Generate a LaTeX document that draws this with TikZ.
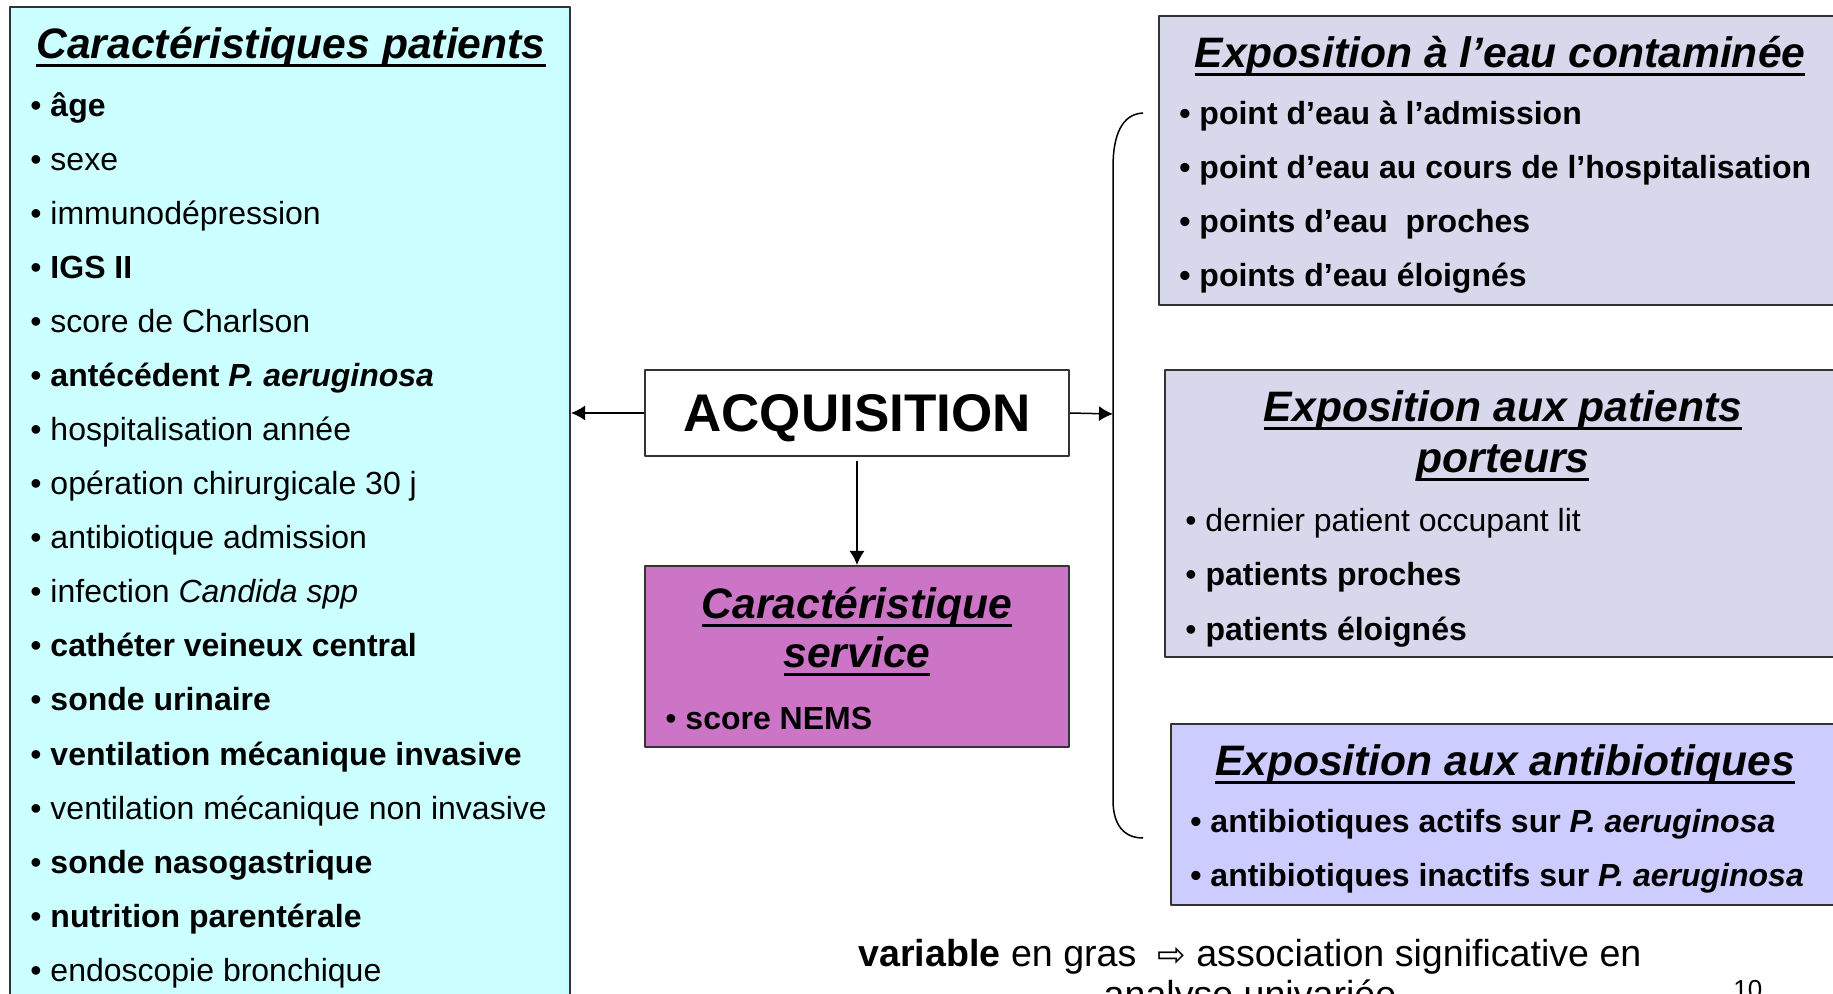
\documentclass[tikz,border=0pt]{standalone}
\usepackage{fontspec}
\setmainfont{Liberation Sans}
\newfontfamily\arrowfont{DejaVu Sans}
\usetikzlibrary{arrows.meta}
\tikzset{>={Latex[length=7pt,width=7.5pt]}}

% thick underline for the box headings
\newcommand{\hdline}[1]{\setbox0\hbox{#1}\leavevmode\rlap{\vrule height -2.6pt depth 4.1pt width \wd0}\box0}

\definecolor{patcyan}{RGB}{204,255,255}
\definecolor{servmauve}{RGB}{204,117,198}
\definecolor{expgris}{RGB}{216,216,236}
\definecolor{expbleu}{RGB}{204,204,255}

\tikzset{
  box/.style={draw=black!80, line width=1pt, anchor=north west, inner sep=0pt},
  item/.style={anchor=base west, inner sep=0pt, font=\fontsize{16}{19}\selectfont},
  head/.style={anchor=base, inner sep=0pt, font=\fontsize{21.3}{25.5}\selectfont\bfseries\itshape},
  link/.style={->, line width=0.75pt},
}

\begin{document}
\begin{tikzpicture}[x=0.5pt, y=-0.5pt, line join=round]
    \useasboundingbox (0,0) rectangle (1833,994);
    \clip (0,0) rectangle (1833,994);

    % boxes
    \node[box, fill=patcyan, minimum width=280pt, minimum height=510pt] (pat) at (9,6) {};
    \node[box, fill=white, minimum width=212pt, minimum height=43pt, text depth=0pt,
          font=\fontsize{26.5}{30}\selectfont\bfseries] (acq) at (644,369) {ACQUISITION};
    \node[box, fill=servmauve, minimum width=212pt, minimum height=90.5pt] (serv) at (644,565) {};
    \node[box, fill=expgris, minimum width=350pt, minimum height=144.5pt] (eau) at (1158,15) {};
    \node[box, fill=expgris, minimum width=350pt, minimum height=143.5pt] (port) at (1164,369) {};
    \node[box, fill=expbleu, minimum width=350pt, minimum height=90.5pt] (abx) at (1170,723) {};

    % patient characteristics
    \node[head] (patt) at (291,59) {\hdline{Caractéristiques patients}};
    \foreach \txt [count=\i] in {\textbf{âge}, sexe, immunodépression, \textbf{IGS II},
        score de Charlson, \textbf{antécédent \textit{P. aeruginosa}}, hospitalisation année,
        opération chirurgicale 30 j, antibiotique admission, infection \textit{Candida spp},
        \textbf{cathéter veineux central}, \textbf{sonde urinaire},
        \textbf{ventilation mécanique invasive}, ventilation mécanique non invasive,
        \textbf{sonde nasogastrique}, \textbf{nutrition parentérale}, endoscopie bronchique}
      \node[item] (pat\i) at (30,63+54*\i) {• \txt};

    % service
    \node[head] (servt1) at (857,619) {\hdline{Caractéristique}};
    \node[head] (servt2) at (857,668) {\hdline{service}};
    \node[item] (serv1) at (665,729) {• \textbf{score NEMS}};

    % water
    \node[head] (eaut) at (1500,68) {\hdline{Exposition à l’eau contaminée}};
    \foreach \txt [count=\i] in {point d’eau à l’admission, point d’eau au cours de l’hospitalisation,
        points d’eau \ proches, points d’eau éloignés}
      \node[item, font=\fontsize{16}{19}\selectfont\bfseries] (eau\i) at (1179,71+54*\i) {• \txt};

    % carriers
    \node[head] (portt1) at (1503,422) {\hdline{Exposition aux patients}};
    \node[head] (portt2) at (1503,473) {\hdline{porteurs}};
    \foreach \txt [count=\i] in {dernier patient occupant lit, \textbf{patients proches},
        \textbf{patients éloignés}}
      \node[item] (port\i) at (1185,478+54*\i) {• \txt};

    % antibiotics
    \node[head] (abxt) at (1505,776) {\hdline{Exposition aux antibiotiques}};
    \foreach \txt [count=\i] in {actifs, inactifs}
      \node[item, font=\fontsize{16}{19}\selectfont\bfseries] (abx\i) at (1190,778+54*\i)
        {• antibiotiques \txt\ sur \textit{P. aeruginosa}};

    % links
    \coordinate (brk) at (1113,414);
    \draw[link] (acq.west) -- (acq.west -| pat.east);
    \draw[link] (acq.east) -- (brk);
    \draw[link, shorten <=2pt] (acq.south) -- (serv.north);
    \draw[line width=0.75pt] (1143,113) .. controls (1122,114) and (1113,135) .. (1113,167)
        -- (1113,800) .. controls (1113,825) and (1124,838) .. (1143,838);

    % note
    \node[anchor=base, inner sep=0pt, font=\fontsize{18.8}{22}\selectfont] (note1) at (1250,966)
        {\textbf{variable} en gras \ {\arrowfont\fontsize{17}{19}\selectfont ⇨} association significative en};
    \node[anchor=base, inner sep=0pt, font=\fontsize{18.8}{22}\selectfont] (note2) at (1250,1007)
        {analyse univariée};
    \node[anchor=base west, inner sep=0pt, font=\fontsize{13}{15}\selectfont] (page) at (1733,998) {10};

\end{tikzpicture}
\end{document}
